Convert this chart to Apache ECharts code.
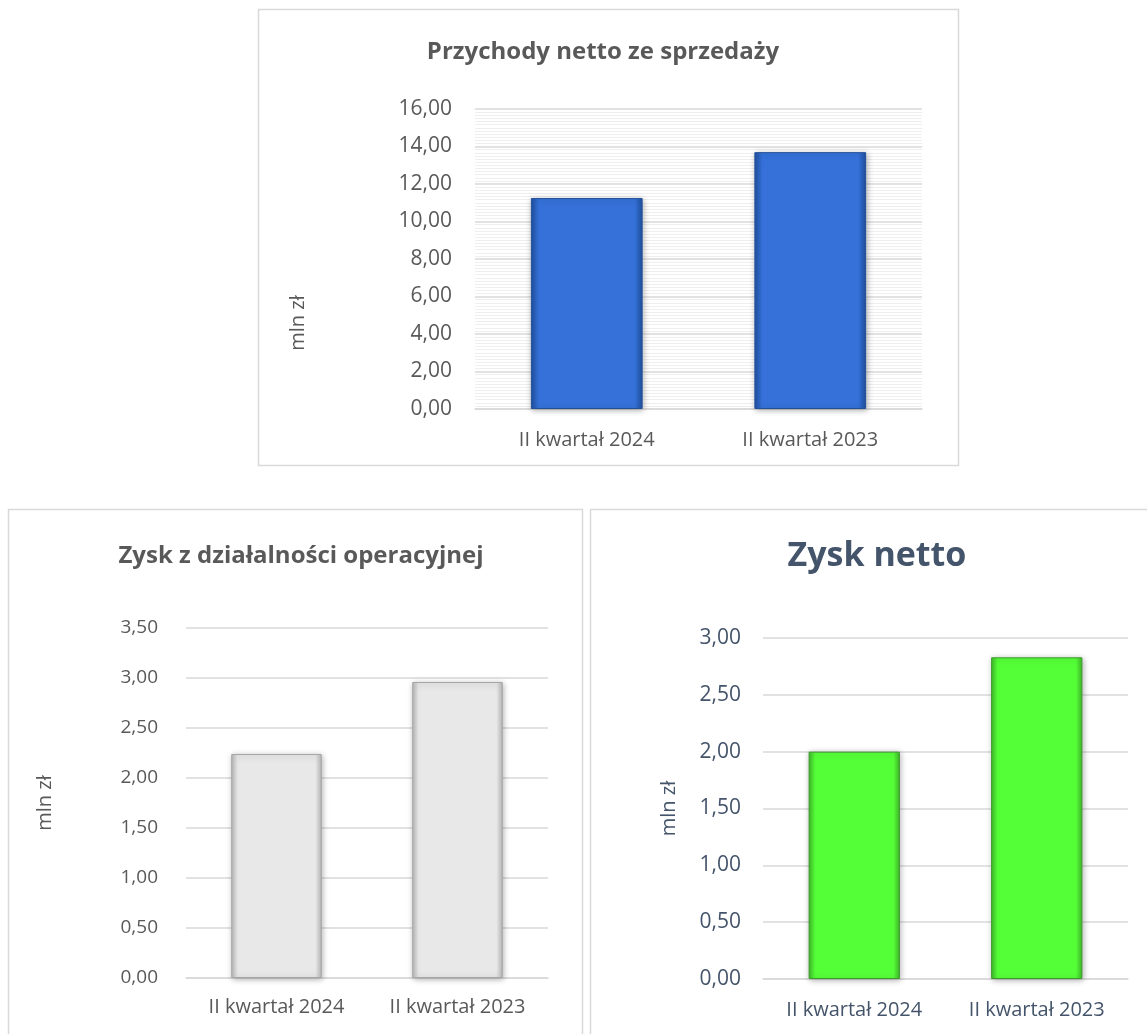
<!DOCTYPE html>
<html>
<head>
<meta charset="utf-8">
<script src="https://cdn.jsdelivr.net/npm/echarts@6/dist/echarts.min.js"></script>
<style>
  html, body { margin: 0; padding: 0; background: #fff; }
  #chart { width: 1147px; height: 1034px; }
</style>
</head>
<body>
<div id="chart"></div>
<script>
// Quarters shown on each panel
const categories = ['II kwartał 2024', 'II kwartał 2023'];

// Values in mln zł
const revenue = [11.25, 13.70];
const operatingProfit = [2.24, 2.96];
const netProfit = [2.00, 2.83];

const titles = ['Przychody netto ze sprzedaży', 'Zysk z działalności operacyjnej', 'Zysk netto'];
const unitLabel = 'mln zł';

const FONT = '"Open Sans", "Noto Sans", sans-serif';
const GREY_TXT = '#595959';
const SLATE_TXT = '#44546A';

const fmt = v => v.toFixed(2).replace('.', ',');

function barStyle(mid, edge, border) {
  return {
    color: {
      type: 'linear', x: 0, y: 0, x2: 1, y2: 0,
      colorStops: [
        { offset: 0, color: edge },
        { offset: 0.07, color: mid },
        { offset: 0.93, color: mid },
        { offset: 1, color: edge }
      ]
    },
    borderColor: border,
    borderWidth: 1,
    shadowColor: 'rgba(0,0,0,0.3)',
    shadowBlur: 6,
    shadowOffsetX: 1,
    shadowOffsetY: 1
  };
}

function xAxis(gridIndex, color, margin) {
  return {
    type: 'category', gridIndex, data: categories,
    axisTick: { show: false },
    axisLine: { lineStyle: { color: '#d9d9d9', width: 1.5 } },
    axisLabel: { color, fontSize: 20, fontFamily: FONT, margin }
  };
}

function yAxis(gridIndex, max, interval, color, labelSize, nameGap, margin, extra) {
  return Object.assign({
    type: 'value', gridIndex, min: 0, max, interval,
    name: unitLabel, nameLocation: 'middle', nameRotate: 90, nameGap,
    nameTextStyle: { color, fontSize: 20, fontFamily: FONT },
    axisLine: { show: false }, axisTick: { show: false },
    axisLabel: { color, fontSize: labelSize, fontFamily: FONT, margin, formatter: fmt },
    splitLine: { lineStyle: { color: '#d9d9d9', width: 1.5 } }
  }, extra || {});
}

const chart = echarts.init(document.getElementById('chart'), null, { renderer: 'canvas' });

chart.setOption({
  animation: false,
  title: [
    { text: titles[0], left: 598, top: 35, textAlign: 'center',
      textStyle: { color: GREY_TXT, fontSize: 24, fontWeight: 'bold', fontFamily: FONT } },
    { text: titles[1], left: 296, top: 539, textAlign: 'center',
      textStyle: { color: GREY_TXT, fontSize: 24, fontWeight: 'bold', fontFamily: FONT } },
    { text: titles[2], left: 872, top: 534, textAlign: 'center',
      textStyle: { color: SLATE_TXT, fontSize: 34, fontWeight: 'bold', fontFamily: FONT } }
  ],
  graphic: [
    { type: 'rect', shape: { x: 258.5, y: 9.5, width: 700, height: 456 },
      style: { fill: 'none', stroke: '#d9d9d9', lineWidth: 1.5 }, z: -1 },
    { type: 'rect', shape: { x: 8.5, y: 509.5, width: 574, height: 540 },
      style: { fill: 'none', stroke: '#d9d9d9', lineWidth: 1.5 }, z: -1 },
    { type: 'rect', shape: { x: 590.5, y: 509.5, width: 570, height: 540 },
      style: { fill: 'none', stroke: '#d9d9d9', lineWidth: 1.5 }, z: -1 }
  ],
  grid: [
    { left: 475, top: 109, width: 447, height: 300 },
    { left: 186, top: 628, width: 362, height: 350 },
    { left: 763, top: 638, width: 365, height: 341 }
  ],
  xAxis: [xAxis(0, GREY_TXT, 21), xAxis(1, GREY_TXT, 19), xAxis(2, SLATE_TXT, 21)],
  yAxis: [
    yAxis(0, 16, 2, GREY_TXT, 21, 167, 23, {
      nameTextStyle: { color: GREY_TXT, fontSize: 20, fontFamily: FONT, padding: [0, 128, 0, 0] },
      minorTick: { show: false, splitNumber: 12 },
      minorSplitLine: { show: true, lineStyle: { color: '#efefef', width: 1 } }
    }),
    yAxis(1, 3.5, 0.5, GREY_TXT, 19, 131, 28),
    yAxis(2, 3, 0.5, SLATE_TXT, 21, 84, 22)
  ],
  series: [
    { type: 'bar', xAxisIndex: 0, yAxisIndex: 0, data: revenue, barWidth: '50%',
      itemStyle: barStyle('#3571D9', '#1F4F9E', '#24509A') },
    { type: 'bar', xAxisIndex: 1, yAxisIndex: 1, data: operatingProfit, barWidth: '50%',
      itemStyle: barStyle('#E8E8E8', '#B8B8B8', '#A6A6A6') },
    { type: 'bar', xAxisIndex: 2, yAxisIndex: 2, data: netProfit, barWidth: '50%',
      itemStyle: barStyle('#55FF38', '#3FB82A', '#3C9A2C') }
  ]
});
</script>
</body>
</html>
